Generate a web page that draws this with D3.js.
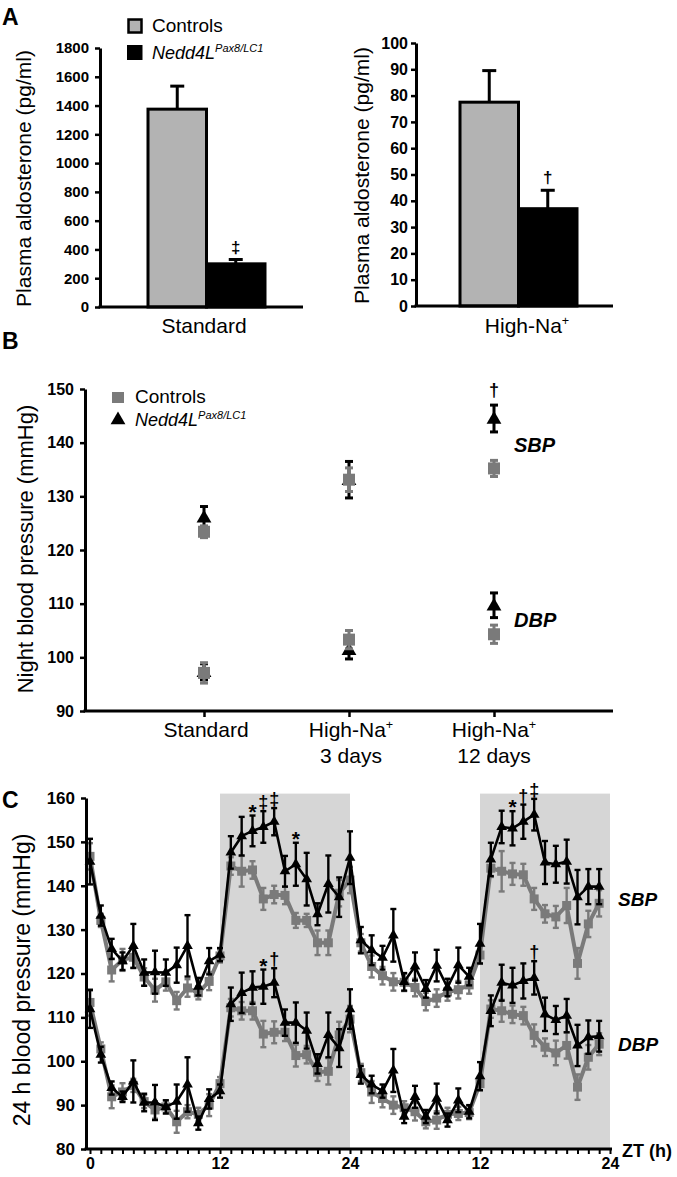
<!DOCTYPE html>
<html><head><meta charset="utf-8">
<script src="https://cdn.jsdelivr.net/npm/d3@7/dist/d3.min.js"></script>
<style>
body{margin:0;background:#fff;}
svg{display:block;font-family:"Liberation Sans",Arial,Helvetica,sans-serif;}
</style></head><body>
<svg id="fig" width="677" height="1177"></svg>
<script>
// ---------------- DATA ----------------
// Panel A
const aGroups = ["Controls", "Nedd4L"];
const aldoStdMean = [1375, 300];
const aldoStdErr = [160, 30];
const aldoNaMean = [77.5, 37];
const aldoNaErr = [12, 7];
const aTicksStd = [0, 200, 400, 600, 800, 1000, 1200, 1400, 1600, 1800];
const aTicksNa = [0, 10, 20, 30, 40, 50, 60, 70, 80, 90, 100];
const aSig = ["‡", "†"];

// Panel B
const bCategories = ["Standard", "High-Na+ 3 days", "High-Na+ 12 days"];
const bSbpCtrl = [123.4, 133.1, 135.2];
const bSbpCtrlErr = [1.1, 2.2, 1.5];
const bSbpKO = [126.1, 133.1, 144.5];
const bSbpKOErr = [2.0, 3.4, 2.5];
const bDbpCtrl = [97.1, 103.3, 104.3];
const bDbpCtrlErr = [1.9, 1.7, 1.7];
const bDbpKO = [97.3, 101.4, 109.7];
const bDbpKOErr = [1.5, 1.7, 2.3];
const bTicks = [90, 100, 110, 120, 130, 140, 150];

// Panel C (hourly, two days)
const cHours = [0,1,2,3,4,5,6,7,8,9,10,11,12,13,14,15,16,17,18,19,20,21,22,23,
                24,25,26,27,28,29,30,31,32,33,34,35,36,37,38,39,40,41,42,43,44,45,46,47];
const cSbpCtrl = [146.7,132.1,120.8,123.1,123.7,119.2,116.2,118.1,113.8,116.7,115.6,118.2,
                  124.0,144.5,143.3,143.6,137.0,138.0,137.8,132.1,132.1,127.0,127.0,138.3,
                  141.3,127.0,121.6,119.5,118.1,118.0,116.8,113.6,114.4,115.8,116.3,117.4,
                  124.2,144.0,143.3,142.7,142.5,137.0,133.6,132.9,135.5,122.3,131.3,136.0];
const cSbpCtrlErr = [3,1.5,2.6,2.5,2.5,2,2.6,2,2,2,1.5,2,
                     1.5,2,3.5,2,2.5,2,2,1.7,1.5,2.8,2.8,3,
                     3,2,2.5,2,2,2,2,2,2,2,2,2,
                     2,2,4.6,2.5,2.5,2.5,2,2.5,4,3.5,3,3];
const cSbpKO = [145.5,133.2,125.6,122.8,126.3,120.2,120.3,120.2,121.9,126.3,117.0,122.8,
                124.3,147.6,151.3,152.5,153.4,154.6,143.3,144.9,141.5,133.5,140.4,137.4,
                146.4,127.6,125.3,123.6,128.7,118.1,121.6,116.5,121.8,116.8,121.9,119.3,
                126.8,146.0,153.4,153.1,154.6,156.2,145.3,144.9,145.5,137.4,139.8,139.8];
const cSbpKOErr = [5.2,2.3,2.3,2,5,3,4.9,3,4,7,2,3,
                   1.5,3.7,4.4,3.5,3.6,3.1,3.5,4.9,6,2.5,6.5,4.5,
                   6,3,3.4,2.7,6,2,3.2,2,3.6,2,4,2,
                   4.5,3.8,3.7,3.9,3.9,3.6,4.9,4.2,5,6.2,4,4];
const cDbpCtrl = [113.4,102.8,91.9,93.0,94.5,90.8,88.9,89.6,86.2,88.5,87.9,90.0,
                  94.9,112.2,111.5,111.5,106.2,106.6,106.6,101.3,101.5,97.5,97.7,106.0,
                  109.6,97.4,93.0,91.5,90.0,89.4,88.5,86.2,86.6,87.9,88.1,88.3,
                  94.9,111.9,111.5,110.7,110.4,105.9,103.2,101.9,103.6,94.1,100.9,103.9];
const cDbpCtrlErr = [3,1.5,2.6,2,1.5,1.5,2,1.5,2.5,1.5,1.5,2.5,
                     1.5,2,2,2,3,2.5,2,2.5,2,2,3,3,
                     3,2,2.5,2,2,1.5,2,1.5,2,1.5,1.5,1.5,
                     1.5,2,2.5,2,2,2.5,2,2.8,3,2.9,2.8,2.5];
const cDbpKO = [111.9,101.5,93.9,91.9,95.4,90.6,90.6,89.6,90.8,94.7,85.9,91.4,
                93.2,113.0,115.6,116.8,117.0,117.9,108.8,108.8,107.0,99.4,106.0,103.0,
                111.9,96.9,94.7,93.2,97.9,87.4,91.9,87.4,91.5,86.6,91.1,88.5,
                96.6,111.5,117.9,117.3,118.3,119.0,110.7,109.4,110.4,103.6,105.5,105.7];
const cDbpKOErr = [4.3,1.8,1.5,1.2,4.8,2,4,1.5,3.9,6.2,1.5,2.2,
                   1.5,3.8,4.6,3.7,3.9,3.3,3,4.6,4.1,2.2,5.1,4.3,
                   4.5,2,2,1.5,4.9,1.5,2.5,1.5,3.4,1.5,2.7,1.5,
                   3.2,3.5,4.1,4,4,3.8,3.8,3.2,3.8,4.7,3.8,3.5];
const cNightStart = [12, 36];
const cNightLen = 12;
const cYTicks = [80, 90, 100, 110, 120, 130, 140, 150, 160];
const cXTickVals = [0, 12, 24, 36, 48];
const cXTickLabels = ["0", "12", "24", "12", "24"];
const cSigSeries = ["sbp","sbp","sbp","sbp","dbp","dbp","sbp","sbp","sbp","dbp"];
const cSigHours  = [15, 16, 17, 19, 16, 17, 39, 40, 41, 41];
const cSigSyms   = ["*", "‡", "‡", "*", "*", "†", "*", "†", "‡", "†"];

// ---------------- STYLE ----------------
const FONT = '"Liberation Sans", Arial, Helvetica, sans-serif';
const BAR_GRAY = "#b3b3b3";
const PT_GRAY = "#7a7a7a";
const SHADE = "#d6d6d6";

const svg = d3.select("#fig");

function styleAxis(g, fs) {
  g.attr("font-family", FONT);
  g.select(".domain").attr("stroke-width", 3).attr("stroke", "#000");
  g.selectAll(".tick line").attr("stroke-width", 2.5).attr("stroke", "#000");
  g.selectAll(".tick text").attr("font-size", fs).attr("font-weight", "bold").attr("fill", "#000");
}

function panelLabel(txt, x, y) {
  svg.append("text").attr("x", x).attr("y", y).text(txt)
    .attr("font-size", 23).attr("font-weight", 900).attr("font-family", FONT);
}

function yTitle(txt, x, y, fs) {
  svg.append("text").attr("transform", `translate(${x},${y}) rotate(-90)`)
    .attr("text-anchor", "middle").attr("font-size", fs).attr("font-family", FONT).text(txt);
}

function naLabel(sel, x, y, fs) {
  const t = sel.append("text").attr("x", x).attr("y", y).attr("text-anchor", "middle")
    .attr("font-size", fs).attr("font-family", FONT);
  t.append("tspan").text("High-Na");
  t.append("tspan").attr("font-size", fs * 0.6).attr("dy", -fs * 0.38).text("+");
  return t;
}

function koLegend(sel, x, y) {
  const t = sel.append("text").attr("x", x).attr("y", y).attr("font-size", 18)
    .attr("font-style", "italic").attr("font-family", FONT);
  t.append("tspan").text("Nedd4L");
  t.append("tspan").attr("font-size", 11).attr("dy", -7).text("Pax8/LC1");
}

// ---------------- PANEL A ----------------
function barPanel(opts) {
  const y = d3.scaleLinear().domain([0, opts.max]).range([opts.y0, opts.y1]);
  const xb = d3.scaleBand().domain(aGroups).range([opts.bx0, opts.bx1]);
  const g = svg.append("g");
  const cx = i => xb(aGroups[i]) + xb.bandwidth() / 2;
  g.selectAll("rect.bar").data(opts.mean).join("rect")
    .attr("x", (d, i) => xb(aGroups[i]))
    .attr("width", xb.bandwidth())
    .attr("y", d => y(d)).attr("height", d => y(0) - y(d))
    .attr("fill", (d, i) => i === 0 ? BAR_GRAY : "#000")
    .attr("stroke", "#000").attr("stroke-width", 3);
  g.selectAll("line.err").data(opts.mean).join("line")
    .attr("x1", (d, i) => cx(i)).attr("x2", (d, i) => cx(i))
    .attr("y1", d => y(d)).attr("y2", (d, i) => y(d + opts.err[i]))
    .attr("stroke", "#000").attr("stroke-width", 3);
  g.selectAll("line.cap").data(opts.mean).join("line")
    .attr("x1", (d, i) => cx(i) - 7).attr("x2", (d, i) => cx(i) + 7)
    .attr("y1", (d, i) => y(d + opts.err[i])).attr("y2", (d, i) => y(d + opts.err[i]))
    .attr("stroke", "#000").attr("stroke-width", 3);
  g.append("text").attr("x", cx(1))
    .attr("y", y(opts.mean[1] + opts.err[1]) - 7)
    .attr("text-anchor", "middle").attr("font-size", 17).attr("font-weight", "bold")
    .attr("font-family", FONT).text(opts.sig);
  const ga = g.append("g").attr("transform", `translate(${opts.ax},0)`)
    .call(d3.axisLeft(y).tickValues(opts.ticks).tickFormat(d3.format("d"))
      .tickSize(5).tickSizeOuter(0).tickPadding(opts.pad));
  styleAxis(ga, opts.fs);
  g.append("line").attr("x1", opts.ax - 1.5).attr("x2", opts.axEnd)
    .attr("y1", y(0)).attr("y2", y(0)).attr("stroke", "#000").attr("stroke-width", 3);
  yTitle("Plasma aldosterone (pg/ml)", opts.titleX, (opts.y0 + opts.y1) / 2 + 1, 21);
  return {g, y, xb};
}

barPanel({max: 1800, y0: 307, y1: 48, bx0: 148, bx1: 265, mean: aldoStdMean, err: aldoStdErr,
  ticks: aTicksStd, ax: 100, axEnd: 303, pad: 6, fs: 15, titleX: 31, sig: aSig[0]});
svg.append("text").attr("x", 204).attr("y", 333).attr("text-anchor", "middle")
  .attr("font-size", 21).attr("font-family", FONT).text("Standard");

barPanel({max: 100, y0: 306, y1: 43, bx0: 460, bx1: 577, mean: aldoNaMean, err: aldoNaErr,
  ticks: aTicksNa, ax: 416, axEnd: 613, pad: 3, fs: 16, titleX: 369, sig: aSig[1]});
naLabel(svg, 527, 333, 21);

// legend A
svg.append("rect").attr("x", 128.5).attr("y", 19.5).attr("width", 13).attr("height", 13)
  .attr("fill", BAR_GRAY).attr("stroke", "#000").attr("stroke-width", 2.5);
svg.append("rect").attr("x", 127).attr("y", 45).attr("width", 15.5).attr("height", 15)
  .attr("fill", "#000");
svg.append("text").attr("x", 152).attr("y", 32).attr("font-size", 19).attr("font-family", FONT).text("Controls");
koLegend(svg, 152, 59);
panelLabel("A", 2, 25);

// ---------------- PANEL B ----------------
{
  const y = d3.scaleLinear().domain([90, 150]).range([711, 389]);
  const x = d3.scalePoint().domain(bCategories).range([204, 494]);
  const g = svg.append("g");
  const ga = g.append("g").attr("transform", "translate(85,0)")
    .call(d3.axisLeft(y).tickValues(bTicks).tickSize(5).tickSizeOuter(0).tickPadding(6));
  styleAxis(ga, 16);
  const gx = g.append("g").attr("transform", "translate(0,711)")
    .call(d3.axisBottom(x).tickSize(6).tickFormat(""));
  styleAxis(gx, 16);
  gx.select(".domain").remove();
  g.append("line").attr("x1", 83.5).attr("x2", 613).attr("y1", 711).attr("y2", 711)
    .attr("stroke", "#000").attr("stroke-width", 3);

  // category labels
  g.append("text").attr("x", x(bCategories[0]) + 2).attr("y", 737).attr("text-anchor", "middle")
    .attr("font-size", 21).attr("font-family", FONT).text("Standard");
  naLabel(g, x(bCategories[1]) + 2, 737, 21);
  g.append("text").attr("x", x(bCategories[1]) + 2).attr("y", 763).attr("text-anchor", "middle")
    .attr("font-size", 21).attr("font-family", FONT).text("3 days");
  naLabel(g, x(bCategories[2]), 737, 21);
  g.append("text").attr("x", x(bCategories[2])).attr("y", 763).attr("text-anchor", "middle")
    .attr("font-size", 21).attr("font-family", FONT).text("12 days");

  function errs(vals, errsArr, color) {
    vals.forEach((v, i) => {
      const cx = x(bCategories[i]);
      g.append("line").attr("x1", cx).attr("x2", cx).attr("y1", y(v - errsArr[i])).attr("y2", y(v + errsArr[i]))
        .attr("stroke", color).attr("stroke-width", 3);
      [v - errsArr[i], v + errsArr[i]].forEach(e => {
        g.append("line").attr("x1", cx - 4).attr("x2", cx + 4).attr("y1", y(e)).attr("y2", y(e))
          .attr("stroke", color).attr("stroke-width", 3);
      });
    });
  }
  const tri = d3.symbol().type(d3.symbolTriangle).size(95);
  function tris(vals) {
    g.selectAll(null).data(vals).join("path")
      .attr("d", tri).attr("transform", (d, i) => `translate(${x(bCategories[i])},${y(d) + 1})`)
      .attr("fill", "#000");
  }
  function squares(vals) {
    g.selectAll(null).data(vals).join("rect")
      .attr("x", (d, i) => x(bCategories[i]) - 6).attr("y", d => y(d) - 6)
      .attr("width", 12).attr("height", 12).attr("fill", PT_GRAY);
  }
  // knockout drawn first, controls on top (as in the original figure)
  errs(bSbpKO, bSbpKOErr, "#000"); errs(bDbpKO, bDbpKOErr, "#000");
  tris(bSbpKO); tris(bDbpKO);
  errs(bSbpCtrl, bSbpCtrlErr, PT_GRAY); errs(bDbpCtrl, bDbpCtrlErr, PT_GRAY);
  squares(bSbpCtrl); squares(bDbpCtrl);

  g.append("text").attr("x", x(bCategories[2])).attr("y", y(bSbpKO[2] + bSbpKOErr[2]) - 9)
    .attr("text-anchor", "middle").attr("font-size", 18).attr("font-weight", "bold")
    .attr("font-family", FONT).text("†");
  g.append("text").attr("x", 514).attr("y", 452).attr("font-size", 20).attr("font-weight", "bold")
    .attr("font-style", "italic").attr("font-family", FONT).text("SBP");
  g.append("text").attr("x", 514).attr("y", 627).attr("font-size", 20).attr("font-weight", "bold")
    .attr("font-style", "italic").attr("font-family", FONT).text("DBP");

  // legend
  g.append("rect").attr("x", 112).attr("y", 392).attr("width", 12).attr("height", 11).attr("fill", PT_GRAY);
  g.append("path").attr("d", tri).attr("transform", "translate(118,420)").attr("fill", "#000");
  g.append("text").attr("x", 135).attr("y", 403).attr("font-size", 19).attr("font-family", FONT).text("Controls");
  koLegend(g, 135, 426);

  yTitle("Night blood pressure (mmHg)", 33, 549, 22);
}
panelLabel("B", 2, 349);

// ---------------- PANEL C ----------------
{
  const x = d3.scaleLinear().domain([0, 48]).range([90, 610]);
  const y = d3.scaleLinear().domain([80, 160]).range([1149, 798]);
  const g = svg.append("g");
  g.selectAll("rect.night").data(cNightStart).join("rect")
    .attr("x", d => x(d)).attr("width", d => x(d + cNightLen) - x(d))
    .attr("y", y(161)).attr("height", y(80) - y(161)).attr("fill", SHADE);

  const line = d3.line().x((d, i) => x(cHours[i])).y(d => y(d));
  function series(vals, errArr, color, lw, marker) {
    vals.forEach((v, i) => {
      const cx = x(cHours[i]);
      g.append("line").attr("x1", cx).attr("x2", cx).attr("y1", y(v - errArr[i])).attr("y2", y(v + errArr[i]))
        .attr("stroke", color).attr("stroke-width", 2.4);
      [v - errArr[i], v + errArr[i]].forEach(e => {
        g.append("line").attr("x1", cx - 3).attr("x2", cx + 3).attr("y1", y(e)).attr("y2", y(e))
          .attr("stroke", color).attr("stroke-width", 2.4);
      });
    });
    g.append("path").datum(vals).attr("d", line).attr("fill", "none")
      .attr("stroke", color).attr("stroke-width", lw).attr("stroke-linejoin", "round");
    if (marker === "square") {
      g.selectAll(null).data(vals).join("rect")
        .attr("x", (d, i) => x(cHours[i]) - 4.5).attr("y", d => y(d) - 4.5)
        .attr("width", 9).attr("height", 9).attr("fill", color);
    } else {
      const tri = d3.symbol().type(d3.symbolTriangle).size(50);
      g.selectAll(null).data(vals).join("path").attr("d", tri)
        .attr("transform", (d, i) => `translate(${x(cHours[i])},${y(d)})`).attr("fill", color);
    }
  }
  series(cSbpCtrl, cSbpCtrlErr, PT_GRAY, 4, "square");
  series(cDbpCtrl, cDbpCtrlErr, PT_GRAY, 4, "square");
  series(cSbpKO, cSbpKOErr, "#000", 2.6, "tri");
  series(cDbpKO, cDbpKOErr, "#000", 2.6, "tri");

  cSigHours.forEach((h, i) => {
    const ko = cSigSeries[i] === "sbp" ? cSbpKO : cDbpKO;
    const er = cSigSeries[i] === "sbp" ? cSbpKOErr : cDbpKOErr;
    g.append("text").attr("x", x(h)).attr("y", y(ko[h] + er[h]) - (cSigSyms[i] === "*" ? -3 : 3))
      .attr("text-anchor", "middle").attr("font-size", cSigSyms[i] === "*" ? 21 : 18).attr("font-weight", "bold")
      .attr("font-family", FONT).text(cSigSyms[i]);
  });

  const ga = g.append("g").attr("transform", "translate(86,0)")
    .call(d3.axisLeft(y).tickValues(cYTicks).tickSize(5).tickSizeOuter(0).tickPadding(6));
  styleAxis(ga, 17);
  const gx = g.append("g").attr("transform", "translate(0,1149)")
    .call(d3.axisBottom(x).tickValues(d3.range(0, 49)).tickSize(5)
      .tickFormat(d => { const j = cXTickVals.indexOf(d); return j >= 0 ? cXTickLabels[j] : ""; }).tickPadding(4));
  styleAxis(gx, 16);
  gx.select(".domain").remove();
  gx.selectAll(".tick line").attr("stroke-width", 2);
  g.append("line").attr("x1", 84.5).attr("x2", 612).attr("y1", 1149).attr("y2", 1149)
    .attr("stroke", "#000").attr("stroke-width", 3);

  g.append("text").attr("x", 622).attr("y", 1157).attr("font-size", 18).attr("font-weight", "bold")
    .attr("font-family", FONT).text("ZT (h)");
  g.append("text").attr("x", 618).attr("y", 906).attr("font-size", 19).attr("font-weight", "bold")
    .attr("font-style", "italic").attr("font-family", FONT).text("SBP");
  g.append("text").attr("x", 618).attr("y", 1051).attr("font-size", 19).attr("font-weight", "bold")
    .attr("font-style", "italic").attr("font-family", FONT).text("DBP");

  yTitle("24 h blood pressure (mmHg)", 30, 980, 23);
}
panelLabel("C", 2, 808);
</script>
</body></html>
